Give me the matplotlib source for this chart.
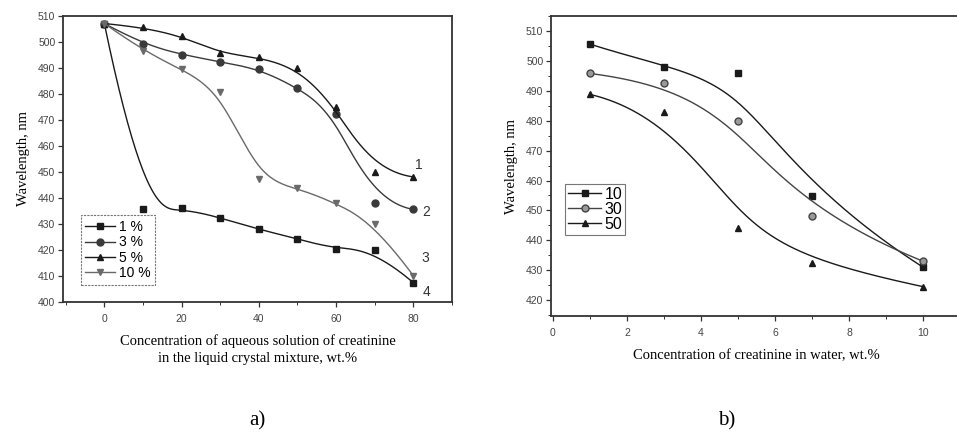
import numpy as np
import matplotlib
matplotlib.use("Agg")
import matplotlib.pyplot as plt
from matplotlib.ticker import MultipleLocator

# ---- data: panel a) ----
conc_a = [0, 10, 20, 30, 40, 50, 60, 70, 80]
wl_1 = [507, 435.5, 436, 432.3, 427.8, 424.2, 420.1, 420, 407.3]
wl_3 = [507, 499, 495, 492.3, 489.5, 482.3, 472.2, 438, 435.5]
wl_5 = [507, 505.5, 502.3, 495.5, 494, 489.7, 475, 450, 448]
wl_10 = [507, 496.5, 489.5, 480.8, 447.3, 443.6, 438, 430, 410]
labels_a = ["1 %", "3 %", "5 %", "10 %"]
curve_ids = ["1", "2", "3", "4"]

# ---- data: panel b) ----
conc_b = [1, 3, 5, 7, 10]
wl_b10 = [505.6, 497.8, 495.8, 454.8, 431]
wl_b30 = [495.8, 492.6, 479.8, 448, 433]
wl_b50 = [488.8, 483, 444, 432.5, 424.5]
labels_b = ["10", "30", "50"]


def bspline(xs, ys, num=400):
    """Clamped cubic B-spline using the data points as control points
    (like Origin's 'B-Spline' line connection)."""
    P = np.column_stack([xs, ys]).astype(float)
    n = len(P)
    k = 3
    nint = n - k
    t = np.concatenate([np.zeros(k), np.arange(nint + 1), np.full(k, nint)]).astype(float)
    u = np.linspace(0, nint, num)
    u[-1] -= 1e-9

    def N(i, p, uu):
        if p == 0:
            return np.where((t[i] <= uu) & (uu < t[i + 1]), 1.0, 0.0)
        a = 0.0
        if t[i + p] != t[i]:
            a = (uu - t[i]) / (t[i + p] - t[i]) * N(i, p - 1, uu)
        b = 0.0
        if t[i + p + 1] != t[i + 1]:
            b = (t[i + p + 1] - uu) / (t[i + p + 1] - t[i + 1]) * N(i + 1, p - 1, uu)
        return a + b

    C = np.zeros((num, 2))
    for i in range(n):
        C += N(i, k, u)[:, None] * P[i]
    return C[:, 0], C[:, 1]


W, H = 957, 433
fig = plt.figure(figsize=(W / 100, H / 100), dpi=100)
fig.patch.set_facecolor("white")

serif = ["Liberation Serif", "DejaVu Serif"]
sans = ["Liberation Sans", "DejaVu Sans"]


def style_axes(ax, xpad):
    for s in ax.spines.values():
        s.set_linewidth(1.3)
        s.set_color("#333333")
    ax.tick_params(which="major", direction="out", length=3.5, width=0.9,
                   labelsize=7.5, colors="#333333", pad=2)
    ax.tick_params(axis="x", which="major", pad=xpad)
    ax.tick_params(which="minor", direction="out", length=2, width=0.7, colors="#333333")
    for lab in ax.get_xticklabels() + ax.get_yticklabels():
        lab.set_family(sans)
        lab.set_color("#444444")


# ---------------- panel a ----------------
ax1 = fig.add_axes([63 / W, 1 - 301.7 / H, (452 - 63) / W, (301.7 - 15.7) / H])
series_a = [wl_1, wl_3, wl_5, wl_10]
markers_a = ["s", "o", "^", "v"]
colors_a = ["#1a1a1a", "#3a3a3a", "#1a1a1a", "#6a6a6a"]
for ys, m, c, lab in zip(series_a, markers_a, colors_a, labels_a):
    cx, cy = bspline(conc_a, ys)
    ax1.plot(cx, cy, color=c, lw=1.0)
    ax1.plot(conc_a, ys, ls="none", marker=m, ms=5, color=c, mec=c)
    ax1.plot([], [], color=c, lw=1.0, marker=m, ms=5, label=lab)

ax1.set_xlim(-10.7, 90)
ax1.set_ylim(400, 510)
ax1.xaxis.set_major_locator(MultipleLocator(20))
ax1.xaxis.set_minor_locator(MultipleLocator(10))
ax1.yaxis.set_major_locator(MultipleLocator(10))
style_axes(ax1, xpad=5)
ax1.set_ylabel("Wavelength, nm", family=serif, fontsize=10.5, labelpad=6)
ax1.set_xlabel("Concentration of aqueous solution of creatinine\nin the liquid crystal mixture, wt.%",
               family=serif, fontsize=10.5, labelpad=8, linespacing=1.35)
leg = ax1.legend(loc="lower left", bbox_to_anchor=(0.045, 0.058), prop={"family": sans, "size": 10},
                 frameon=True, fancybox=False, handlelength=2.1, handletextpad=0.3,
                 borderpad=0.35, labelspacing=0.1, borderaxespad=0)
leg.get_frame().set_edgecolor("#555555")
leg.get_frame().set_linestyle((0, (2, 1)))
leg.get_frame().set_linewidth(0.8)

id_pos_x = [81.5, 83.3, 83.0, 83.5]
id_pos_y = [452.6, 434.5, 416.8, 403.7]
for s, x, y in zip(curve_ids, id_pos_x, id_pos_y):
    ax1.text(x, y, s, family=sans, fontsize=10, color="#333333", ha="center", va="center")

# ---------------- panel b ----------------
ax2 = fig.add_axes([551 / W, 1 - 316 / H, (962 - 551) / W, (316 - 16) / H])
series_b = [wl_b10, wl_b30, wl_b50]
markers_b = ["s", "o", "^"]
colors_b = ["#1a1a1a", "#444444", "#1a1a1a"]
mfc_b = ["#1a1a1a", "#999999", "#1a1a1a"]
for ys, m, c, fc, lab in zip(series_b, markers_b, colors_b, mfc_b, labels_b):
    cx, cy = bspline(conc_b, ys)
    ax2.plot(cx, cy, color=c, lw=1.0)
    ax2.plot(conc_b, ys, ls="none", marker=m, ms=5, color=c, mfc=fc, mec=c)
    ax2.plot([], [], color=c, lw=1.0, marker=m, ms=5, mfc=fc, mec=c, label=lab)

ax2.set_xlim(-0.05, 11.05)
ax2.set_ylim(414.7, 515)
ax2.xaxis.set_major_locator(MultipleLocator(2))
ax2.xaxis.set_minor_locator(MultipleLocator(1))
ax2.yaxis.set_major_locator(MultipleLocator(10))
ax2.yaxis.set_minor_locator(MultipleLocator(5))
ax2.set_yticks(np.arange(420, 511, 10))
style_axes(ax2, xpad=5)
ax2.set_ylabel("Wavelength, nm", family=serif, fontsize=10.5, labelpad=6)
ax2.set_xlabel("Concentration of creatinine in water, wt.%", family=serif, fontsize=10.5, labelpad=8)
leg2 = ax2.legend(loc="lower left", bbox_to_anchor=(0.033, 0.27), prop={"family": sans, "size": 11.5},
                  frameon=True, fancybox=False, handlelength=2.1, handletextpad=0.2,
                  borderpad=0.2, labelspacing=0.0, borderaxespad=0)
leg2.get_frame().set_edgecolor("#555555")
leg2.get_frame().set_linewidth(0.8)

fig.text(257 / W, 1 - 421 / H, "a)", family=serif, fontsize=15, ha="center", va="center")
fig.text(727 / W, 1 - 421 / H, "b)", family=serif, fontsize=15, ha="center", va="center")

fig.savefig("out.png", dpi=100, facecolor="white")
